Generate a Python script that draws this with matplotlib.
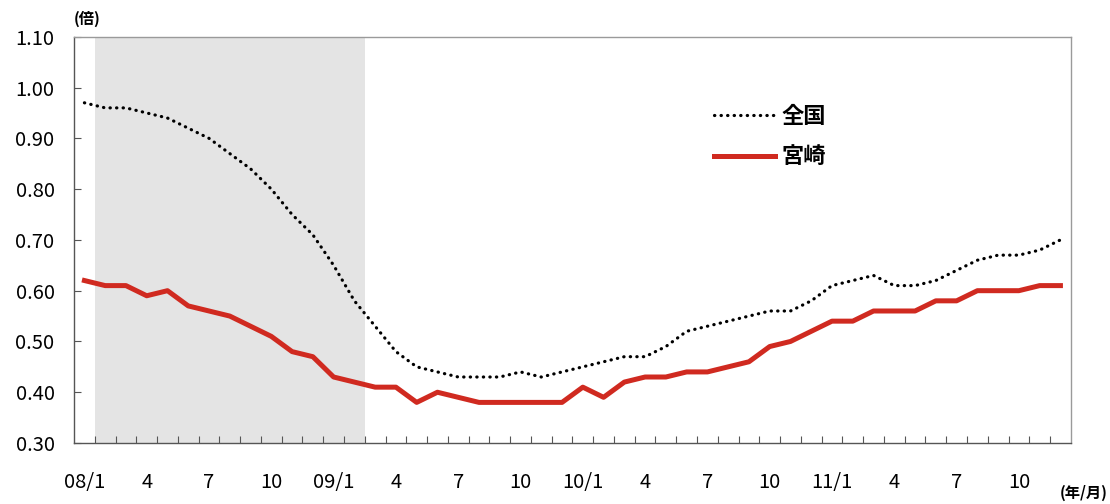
import numpy as np
import matplotlib
matplotlib.use("Agg")
import matplotlib.pyplot as plt

plt.rcParams['font.family'] = ['Noto Sans CJK JP', 'DejaVu Sans']

# 有効求人倍率（月次）2008/1 - 2011/12
months = [f"{y:02d}/{m}" for y in (8, 9, 10, 11) for m in range(1, 13)]
zenkoku = [0.97, 0.96, 0.96, 0.95, 0.94, 0.92, 0.90, 0.87, 0.84, 0.80, 0.75, 0.71,
           0.65, 0.58, 0.53, 0.48, 0.45, 0.44, 0.43, 0.43, 0.43, 0.44, 0.43, 0.44,
           0.45, 0.46, 0.47, 0.47, 0.49, 0.52, 0.53, 0.54, 0.55, 0.56, 0.56, 0.58,
           0.61, 0.62, 0.63, 0.61, 0.61, 0.62, 0.64, 0.66, 0.67, 0.67, 0.68, 0.70]
miyazaki = [0.62, 0.61, 0.61, 0.59, 0.60, 0.57, 0.56, 0.55, 0.53, 0.51, 0.48, 0.47,
            0.43, 0.42, 0.41, 0.41, 0.38, 0.40, 0.39, 0.38, 0.38, 0.38, 0.38, 0.38,
            0.41, 0.39, 0.42, 0.43, 0.43, 0.44, 0.44, 0.45, 0.46, 0.49, 0.50, 0.52,
            0.54, 0.54, 0.56, 0.56, 0.56, 0.58, 0.58, 0.60, 0.60, 0.60, 0.61, 0.61]
xlabels = ['08/1', '4', '7', '10', '09/1', '4', '7', '10',
           '10/1', '4', '7', '10', '11/1', '4', '7', '10']
# 景気後退期 (08/2 - 09/2)
shade_start, shade_end = 1, 13

x = np.arange(len(months))

fig = plt.figure(figsize=(11.1, 5.04), dpi=100)
ax = fig.add_axes([0.0667, 0.121, 0.898, 0.806])

ax.axvspan(shade_start - 0.5, shade_end + 0.5, color='#e4e4e4', lw=0, zorder=0)

ax.plot(x, zenkoku, color='black', lw=2.3, linestyle=(0, (0.1, 1.95)),
        dash_capstyle='round', label='全国', zorder=3)
ax.plot(x, miyazaki, color='#d02a20', lw=3.6, solid_joinstyle='round',
        label='宮崎', zorder=4)

ax.set_xlim(-0.5, len(months) - 0.5)
ax.set_ylim(0.30, 1.10)

# 目盛：月の境界に刻み、ラベルは月の中央
ax.set_xticks(np.arange(0.5, len(months) - 1, 1))
ax.set_xticklabels([])
ax.set_xticks(x[::3], minor=True)
ax.set_xticklabels(xlabels, minor=True, fontsize=14.5)
ax.tick_params(axis='x', which='major', direction='in', length=5, width=0.8, color='#555555')
ax.tick_params(axis='x', which='minor', length=0, pad=21)

ax.set_yticks(np.arange(0.30, 1.101, 0.10))
ax.set_yticklabels([f"{v:.2f}" for v in np.arange(0.30, 1.101, 0.10)], fontsize=14.5)
ax.tick_params(axis='y', direction='in', length=5, width=0.8, color='#555555', pad=14)

for side in ('left', 'bottom'):
    ax.spines[side].set_color('#555555')
    ax.spines[side].set_linewidth(1.0)
for side in ('top', 'right'):
    ax.spines[side].set_color('#9a9a9a')
    ax.spines[side].set_linewidth(1.0)

leg = ax.legend(loc='upper left', bbox_to_anchor=(0.642, 0.832), frameon=False,
                prop={'size': 16, 'weight': 'bold'}, handlelength=2.75,
                handletextpad=0.3, labelspacing=0.78,
                borderaxespad=0, borderpad=0)

fig.text(0.066, 0.962, '(倍)', fontsize=11, fontweight='bold', ha='left', va='center')
fig.text(0.998, 0.022, '(年/月)', fontsize=11, fontweight='bold', ha='right', va='center')

fig.savefig('out.png', dpi=100)
